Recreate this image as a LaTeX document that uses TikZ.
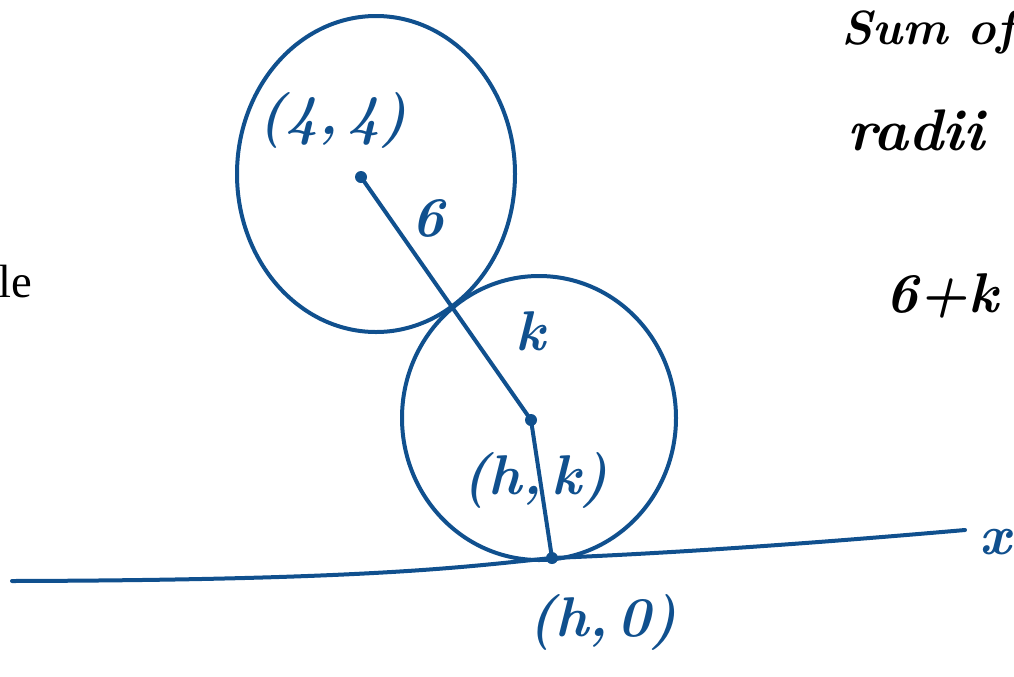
\documentclass[tikz,border=0pt]{standalone}
\usepackage{fontspec}
\newfontfamily\bookfont{Liberation Serif}
\definecolor{inkblue}{RGB}{16,80,142}
\tikzset{every picture/.style={line width=0.75pt}}
\tikzset{
  ink/.style={color=inkblue, line width=3pt, line cap=round, line join=round},
  inkdot/.style={circle, fill=inkblue, inner sep=0pt, minimum size=9pt},
  hand/.style={text=inkblue, inner sep=0.75pt, font=\fontsize{42}{44}\selectfont\bfseries\itshape},
  note/.style={text=black, inner sep=0.75pt, font=\fontsize{36}{40}\selectfont\bfseries\itshape}
}

\begin{document}
\begin{tikzpicture}[x=0.75pt,y=0.75pt,yscale=-1,xscale=1]
\useasboundingbox (0,0) rectangle (1014,676);

% centres and touching point
\node [inkdot] (c1) at (361,177) {};
\node [inkdot] (c2) at (531,420) {};
\node [inkdot] (t) at (552,558) {};

% Shape: circles
\draw [ink] (376,174) ellipse [x radius=139, y radius=158];
\draw [ink] (539,418) ellipse [x radius=137, y radius=142];

% Straight Lines
\draw [ink] (c1.center) -- (c2.center);
\draw [ink] (c2.center) -- (t.center);

% x axis
\coordinate (axL) at (12,581);
\coordinate (axR) at (965,530);
\draw [ink] (axL) .. controls (380,580) and (470,566) .. (t.center) .. controls (700,552) and (850,540) .. (axR);

% Text Node
\node [hand] (lc1) at (333,120) {(4,\,4)};
\node [hand] (lr1) at (428,218) {6};
\node [hand] (lr2) at (530,331) {k};
\node [hand] (lc2) at (535,480) {(h,\,k)};
\node [hand] (lt) at (603,622) {(h,\,0)};
\node [hand, anchor=east] (lx) at (1012,542) {x};

% Text Node
\node [note, anchor=west] (sum) at (840,32) {Sum of};
\node [note, anchor=west, font=\fontsize{44}{48}\selectfont\bfseries\itshape] (radii) at (846,130) {radii};
\node [note, anchor=west, font=\fontsize{42}{46}\selectfont\bfseries\itshape] (six) at (884,296) {6+k};
\node [anchor=west, inner sep=0pt, font=\bookfont\fontsize{35}{38}\selectfont] (le) at (-2,282) {le};

\end{tikzpicture}
\end{document}
